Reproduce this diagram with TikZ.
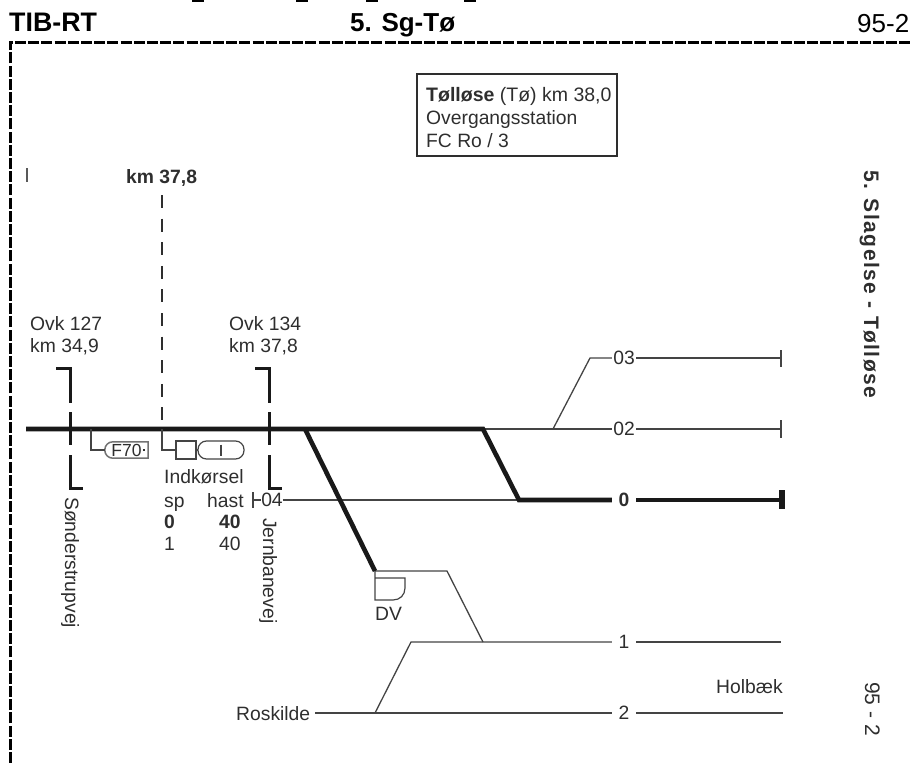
\documentclass[tikz,border=0pt]{standalone}
\usepackage{fontspec}
\setmainfont{Liberation Sans}
\definecolor{ink}{HTML}{2E2E2E}
\definecolor{wire}{HTML}{444444}
\newcommand{\bodyf}{\fontsize{19.3}{23}\selectfont}
\newcommand{\headf}{\fontsize{26}{30}\selectfont}
\newcommand{\sidef}{\fontsize{21}{25}\selectfont}
\tikzset{
  txt/.style={inner sep=0pt,anchor=base west,text=ink,font=\bodyf},
  head/.style={inner sep=0pt,anchor=base west,text=black,font=\headf},
  tlabel/.style={inner sep=0pt,anchor=center,text=ink,font=\bodyf},
  frameline/.style={line width=3pt,black,dash pattern=on 11pt off 2.2pt},
  thin/.style={line width=1.3pt,wire},
  thick/.style={line width=4.6pt,black!90},
  bracket/.style={line width=3pt,black!90},
  sig/.style={line width=1.2pt,wire}
}
\begin{document}
\begin{tikzpicture}[x=1pt,y=-1pt]
\useasboundingbox (0,0) rectangle (911,763);
% clipped descenders of the cut-off title line
\foreach \gx in {198,302,372,470}{\fill[black] (\gx-6,0) rectangle (\gx+6,1.6);}
% header
\node[head,font=\fontsize{26.8}{30}\selectfont\bfseries] (h1) at (9,31) {TIB-RT};
\node[head,font=\headf\bfseries] (h2) at (350,31) {5. Sg-Tø};
\node[head] (h3) at (857,32) {95-2};
\coordinate (fA) at (10,763); \coordinate (fB) at (10,42); \coordinate (fC) at (911,42);
\draw[frameline] (fA) -- (fB) -- (fC);
% info box
\node[draw=ink,line width=1.4pt,minimum width=200pt,minimum height=82pt,inner sep=0pt] (info) at (517,115) {};
\node[txt,font=\fontsize{19.5}{23}\selectfont] (i1) at (426,101) {\textbf{Tølløse} (Tø) km 38,0};
\node[txt] (i2) at (426,124) {Overgangsstation};
\node[txt] (i3) at (426,147) {FC Ro / 3};
% km marker
\coordinate (m1) at (27,168); \coordinate (m2) at (27,182);
\draw[line width=1.2pt,black!65] (m1) -- (m2);
\node[txt,font=\bodyf\bfseries] (km) at (126,183) {km 37,8};
\coordinate (kT) at (162,195); \coordinate (kB) at (162,429);
\draw[line width=1.6pt,ink,dash pattern=on 13pt off 10.6pt] (kT) -- (kB);
% coordinates of track
\coordinate (t0) at (26,429); \coordinate (sw1) at (305,429); \coordinate (sw2) at (483,429);
\coordinate (e02) at (781,429); \coordinate (j0) at (519,500); \coordinate (e0) at (781,500);
\coordinate (dv) at (375,571); \coordinate (dv2) at (447,571); \coordinate (j1) at (483,642);
\coordinate (s1) at (411,642); \coordinate (e1) at (781,642); \coordinate (s2) at (375,713);
\coordinate (e2) at (783,713); \coordinate (b03) at (553,429); \coordinate (k03) at (590,358);
\coordinate (e03) at (781,358);
% track labels
\node[tlabel,minimum width=24pt] (l03) at (624,358) {03};
\node[tlabel,minimum width=24pt] (l02) at (624,429) {02};
\node[tlabel,minimum width=24pt,font=\bodyf\bfseries] (l0) at (624,500) {0};
\node[tlabel,minimum width=24pt] (l1) at (624,642) {1};
\node[tlabel,minimum width=24pt] (l2) at (624,713) {2};
\node[tlabel] (l04) at (272,500) {04};
\node[txt] (ros) at (236,720) {Roskilde};
\node[txt] (hol) at (716,693) {Holbæk};
% thin tracks
\draw[thin] (sw2) -- (l02.west);
\draw[thin] (l02.east) -- (e02);
\draw[thin] (781,420) -- (781,438);
\draw[thin] (b03) -- (k03) -- (l03.west);
\draw[thin] (l03.east) -- (e03);
\draw[thin] (781,350) -- (781,367);
\draw[thin] (l04.east) -- (j0);
\draw[thin] (253,492) -- (253,508);
\draw[thin] (253,500) -- (l04.west);
\draw[thin] (dv) -- (dv2) -- (j1);
\draw[thin] (s2) -- (s1) -- (l1.west);
\draw[thin] (l1.east) -- (e1);
\draw[thin] (ros.east |- s2) ++(5,0) -- (s2) -- (l2.west);
\draw[thin] (l2.east) -- (e2);
% thick tracks
\draw[thick] (t0) -- (sw2) -- (j0) -- (l0.west);
\draw[thick] (l0.east) -- (e0);
\draw[line width=6pt,black!90] (782,490) -- (782,509);
\draw[thick] (sw1) -- (dv);
% level crossings
\foreach \bx/\nm in {70/a,269/b}{
  \draw[bracket] (\bx-14,368) -- (\bx,368) -- (\bx,403);
  \draw[bracket] (\bx,412) -- (\bx,445);
  \draw[bracket] (\bx,455) -- (\bx,488) -- (\bx+13,488);
}
\node[txt] (o1) at (30,330) {Ovk 127};
\node[txt] (o2) at (30,352) {km 34,9};
\node[txt] (o3) at (229,330) {Ovk 134};
\node[txt] (o4) at (229,352) {km 37,8};
\node[txt,rotate=-90] (son) at (65,497) {Sønderstrupvej};
\node[txt,rotate=-90] (jer) at (263,518) {Jernbanevej};
% signals
\node[inner sep=0pt,minimum width=43pt,minimum height=16pt] (f70) at (126.5,450) {};
\draw[black!55,line width=1.5pt] (f70.north east) [rounded corners=8pt] -- (f70.north west) -- (f70.south west) [sharp corners] -- (f70.south east) -- cycle;
\node[txt,anchor=center,font=\fontsize{17.5}{21}\selectfont] (f70t) at (126.5,450.5) {F70};
\draw[line width=1.4pt,ink] (143,450) -- (145,450);
\coordinate (f0) at (91,429);
\draw[sig] (f0) |- (f70.west);
\node[draw=wire,line width=1.2pt,minimum width=20pt,minimum height=18pt,inner sep=0pt] (ibox) at (186,450) {};
\node[draw=wire,line width=1.2pt,rounded corners=8.5pt,minimum width=46pt,minimum height=18pt,inner sep=0pt] (ipill) at (221,450) {};
\draw[sig] (kB) -- (162,450) -- (ibox.west);
\draw[sig] (ibox.east) -- (ipill.west);
\draw[sig] (ipill.center) ++(0,-5.5) -- ++(0,11.5);
\node[txt] (t1) at (164,483) {Indkørsel};
\node[txt] (t2) at (164,507) {sp};
\node[txt] (t3) at (207,507) {hast};
\node[txt,font=\bodyf\bfseries] (t4) at (164,528) {0};
\node[txt,font=\bodyf\bfseries] (t5) at (219,528) {40};
\node[txt] (t6) at (164,550) {1};
\node[txt] (t7) at (219,550) {40};
% DV
\draw[sig] (dv) -- (375,600) -- (393,600) .. controls (400,600) and (405,595) .. (405,588) -- (405,578) -- (375,578);
\node[txt] (dvt) at (375,620) {DV};
% margin
\node[txt,rotate=-90,font=\sidef\bfseries\addfontfeature{LetterSpace=7}] (side) at (864,170) {5. Slagelse - Tølløse};
\node[txt,rotate=-90,font=\sidef] (side2) at (865,682) {95 - 2};
\end{tikzpicture}
\end{document}
